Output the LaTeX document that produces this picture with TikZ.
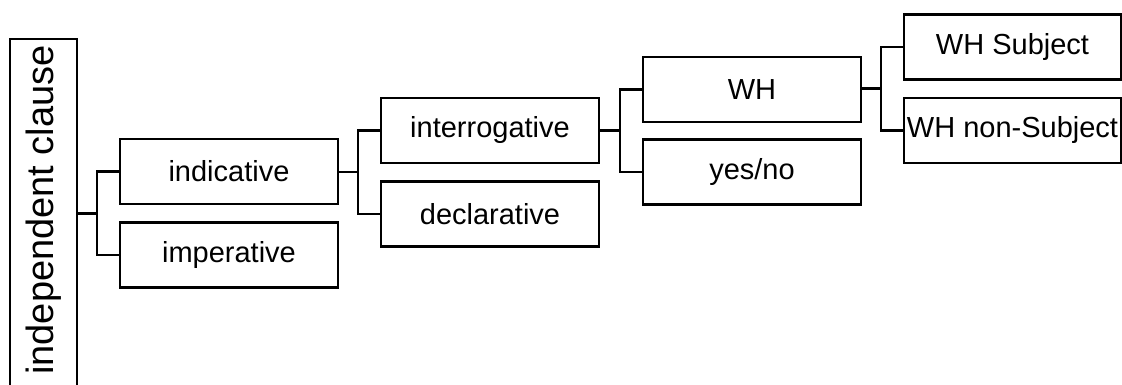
\documentclass[tikz,border=0pt]{standalone}
\usepackage{fontspec}
\setmainfont{Liberation Sans}
\usetikzlibrary{calc}
\begin{document}
\begin{tikzpicture}[x=1pt,y=-1pt,
  box/.style={draw=black, line width=2.5pt, minimum width=218pt, minimum height=65pt,
    inner sep=0pt, font=\fontsize{29}{34}\selectfont, text=black},
  rootbox/.style={draw=black, line width=2.5pt, rotate=90, minimum width=356pt, minimum height=67pt,
    inner sep=0pt, font=\fontsize{38}{44}\selectfont, text=black},
  conn/.style={draw=black, line width=2.5pt}]
\useasboundingbox (0,0) rectangle (1122,385);
\node[rootbox] (root) at (43.5,217) {\hspace*{14pt}independent clause};
\node[box] (indicative) at (229,171.5) {indicative};
\node[box] (imperative) at (229,255) {imperative};
\node[box] (interrogative) at (490,130.5) {interrogative};
\node[box] (declarative) at (490,214) {declarative};
\node[box] (wh) at (752,89.5) {WH};
\node[box] (yesno) at (752,172) {yes/no};
\node[box, minimum width=217pt] (whsubj) at (1012.5,47) {WH Subject};
\node[box, minimum width=217pt] (whnon) at (1012.5,130.5) {WH non-Subject};
\coordinate (j1) at ($(indicative.west)!0.5!(imperative.west)+(-22,0)$);
\coordinate (j2) at ($(interrogative.west)!0.5!(declarative.west)+(-22,0)$);
\coordinate (j3) at ($(wh.west)!0.5!(yesno.west)+(-22,0)$);
\coordinate (j4) at ($(whsubj.west)!0.5!(whnon.west)+(-22,0)$);
\draw[conn] (root.south |- j1) -- (j1);
\draw[conn] (indicative.west) -| (j1) |- (imperative.west);
\draw[conn] (indicative.east |- j2) -- (j2);
\draw[conn] (interrogative.west) -| (j2) |- (declarative.west);
\draw[conn] (interrogative.east |- j3) -- (j3);
\draw[conn] (wh.west) -| (j3) |- (yesno.west);
\draw[conn] (wh.east |- j4) -- (j4);
\draw[conn] (whsubj.west) -| (j4) |- (whnon.west);
\end{tikzpicture}
\end{document}
